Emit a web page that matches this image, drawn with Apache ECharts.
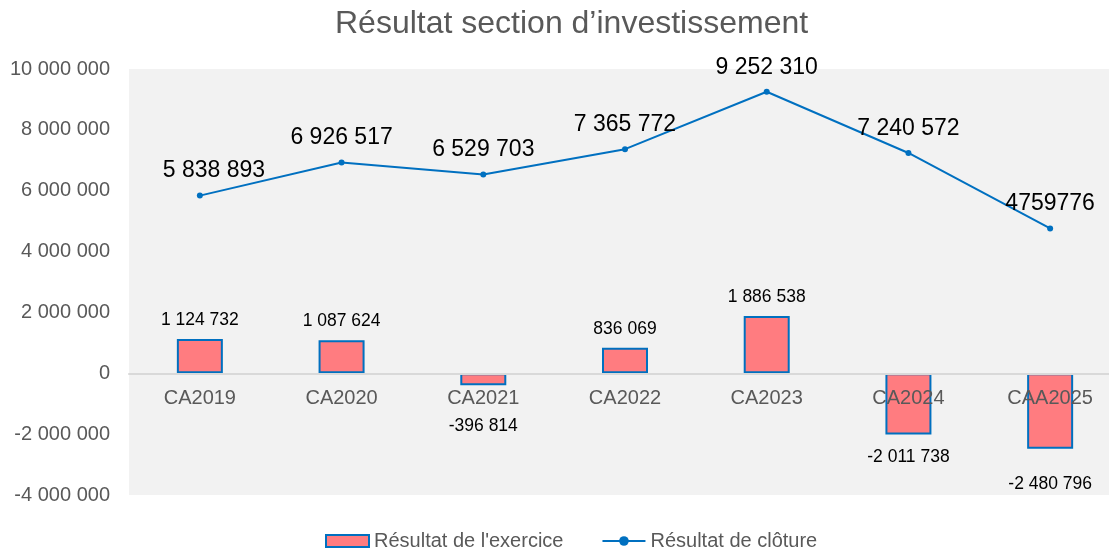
<!DOCTYPE html>
<html>
<head>
<meta charset="utf-8">
<script src="https://cdn.jsdelivr.net/npm/echarts@6/dist/echarts.min.js"></script>
<style>html,body{margin:0;padding:0;background:#fff}#c{width:1109px;height:550px}</style>
</head>
<body>
<div id="c"></div>
<script>
var categories = ['CA2019','CA2020','CA2021','CA2022','CA2023','CA2024','CAA2025'];
var resultatExercice = [1124732, 1087624, -396814, 836069, 1886538, -2011738, -2480796];
var resultatCloture = [5838893, 6926517, 6529703, 7365772, 9252310, 7240572, 4759776];
var clotureLabelText = ['5 838 893','6 926 517','6 529 703','7 365 772','9 252 310','7 240 572','4759776'];
var yTicks = [-4000000, -2000000, 0, 2000000, 4000000, 6000000, 8000000, 10000000];

var barLabelExtraDy = [0, 0, 18, 0, 0, 0, 12];
var lineLabelDx = [14, 0, 0, 0, 0, 0, 0];

function fmt(v){
  var s = Math.abs(Math.round(v)).toString().replace(/\B(?=(\d{3})+(?!\d))/g, ' ');
  return (v < 0 ? '-' : '') + s;
}
var FONT = 'Liberation Sans, Arial, sans-serif';

var GRID_TOP = 69, GRID_BOTTOM = 55, H = 550;
var yMin = yTicks[0], yMax = yTicks[yTicks.length-1];
var gridH = H - GRID_TOP - GRID_BOTTOM;
var zeroOffset = -(0 - yMin) / (yMax - yMin) * gridH;

var barData = resultatExercice.map(function(v,i){
  return {value: v, label: {position: v < 0 ? 'bottom' : 'top', distance: v < 0 ? 14 : 10, offset: [0, barLabelExtraDy[i]]}};
});
var lineData = resultatCloture.map(function(v,i){
  return {value: v, label: {offset: [lineLabelDx[i], 0], formatter: clotureLabelText[i]}};
});

var chart = echarts.init(document.getElementById('c'), null, {renderer:'canvas'});
chart.setOption({
  animation: false,
  backgroundColor: '#ffffff',
  textStyle: {fontFamily: FONT},
  title: {
    text: 'Résultat section d’investissement',
    left: 330, top: 3,
    textStyle: {fontFamily: FONT, fontSize: 32, fontWeight: 'normal', color: '#595959'}
  },
  legend: {
    left: 320, top: 526,
    itemWidth: 43, itemHeight: 12, itemGap: 38,
    textStyle: {fontFamily: FONT, fontSize: 20, color: '#595959', padding: [0,0,0,0]},
    data: [{name: 'Résultat de l\'exercice', icon: 'rect'}, {name: 'Résultat de clôture'}]
  },
  grid: {
    left: 129, top: GRID_TOP, right: -12, bottom: GRID_BOTTOM,
    outerBoundsMode: 'none', containLabel: false,
    show: true, backgroundColor: '#F2F2F2', borderWidth: 0
  },
  xAxis: {
    type: 'category',
    data: categories,
    offset: zeroOffset,
    z: 10,
    axisLine: {onZero: false, lineStyle: {color: '#D9D9D9', width: 2}},
    axisTick: {show: false},
    axisLabel: {fontFamily: FONT, fontSize: 20, color: '#595959', margin: 15},
    splitLine: {show: false}
  },
  yAxis: {
    type: 'value',
    min: yMin, max: yMax, interval: 2000000,
    axisLine: {show: false},
    axisTick: {show: false},
    splitLine: {show: false},
    axisLabel: {fontFamily: FONT, fontSize: 20, color: '#595959', margin: 19, formatter: fmt}
  },
  series: [
    {
      name: 'Résultat de l\'exercice',
      type: 'bar',
      data: barData,
      barWidth: 46,
      itemStyle: {color: '#FF7C80', borderColor: '#0070C0', borderWidth: 2},
      label: {show: true, fontFamily: FONT, fontSize: 17.5, color: '#000',
        formatter: function(p){ return fmt(p.value); }},
      z: 2
    },
    {
      name: 'Résultat de clôture',
      type: 'line',
      data: lineData,
      symbol: 'circle', symbolSize: 6,
      lineStyle: {color: '#0070C0', width: 2},
      itemStyle: {color: '#0070C0'},
      label: {show: true, position: 'top', distance: 10, fontFamily: FONT, fontSize: 23, color: '#000'},
      z: 3
    }
  ]
});
</script>
</body>
</html>
